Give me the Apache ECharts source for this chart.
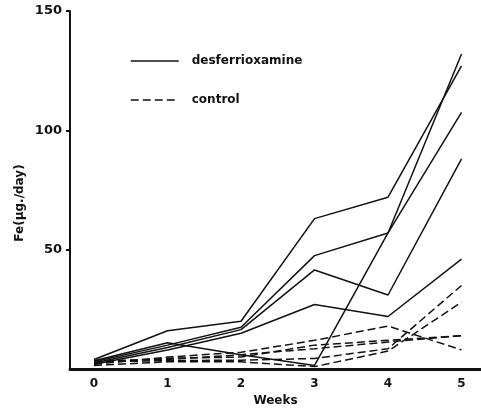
<!DOCTYPE html>
<html>
<head>
<meta charset="utf-8">
<script src="https://cdn.jsdelivr.net/npm/echarts@6/dist/echarts.min.js"></script>
<style>
html,body{margin:0;padding:0;background:#fff;}
#chart{width:481px;height:412px;}
</style>
</head>
<body>
<div id="chart"></div>
<script>
// ---- data ----
const weeks = [0, 1, 2, 3, 4, 5];
const xTickLabels = [0, 1, 2, 3, 4, 5];
const yTickLabels = [0, 50, 100, 150];

// desferrioxamine (solid)
const desf1 = [4, 16, 20, 63, 72, 127];
const desf2 = [3, 10, 17.5, 47.5, 57, 132];
const desf3 = [3.5, 11, 6, 1.5, 57, 107.5];
const desf4 = [2.5, 9, 16.5, 41.5, 31, 88];
const desf5 = [2, 8, 15, 27, 22, 46];

// control (dashed)
const ctrl1 = [2, 5, 7, 12, 18, 8];
const ctrl2 = [1.5, 3, 3, 1, 7.5, 28];
const ctrl3 = [3, 3.5, 3.7, 4.4, 8.5, 35];
const ctrl4 = [2.5, 4.5, 5, 10, 12, 14];
const ctrl5 = [3.5, 4, 6, 8.5, 11.3, 14];

const desfSeries = [desf1, desf2, desf3, desf4, desf5];
const ctrlSeries = [ctrl1, ctrl2, ctrl3, ctrl4, ctrl5];

const FONT = '"DejaVu Sans", "Liberation Sans", sans-serif';
const INK = '#111';

function mk(name, vals, dashed) {
  return {
    name: name,
    type: 'line',
    symbol: 'none',
    animation: false,
    data: weeks.map((w, i) => [w, vals[i]]),
    lineStyle: { color: INK, width: 1.5, type: dashed ? [8, 4] : 'solid' },
    itemStyle: { color: INK }
  };
}

const series = [];
desfSeries.forEach(v => series.push(mk('desferrioxamine', v, false)));
ctrlSeries.forEach(v => series.push(mk('control', v, true)));

const chart = echarts.init(document.getElementById('chart'), null, { renderer: 'canvas' });
chart.setOption({
  animation: false,
  backgroundColor: '#fff',
  grid: { left: 70, right: 0, top: 11, bottom: 38, containLabel: false },
  legend: {
    show: true,
    data: ['desferrioxamine', 'control'],
    orient: 'vertical',
    left: 130,
    top: 55,
    padding: 0,
    itemWidth: 48,
    itemHeight: 14,
    itemGap: 27,
    selectedMode: false,
    itemStyle: { opacity: 0, borderWidth: 0 },
    lineStyle: { width: 1.5 },
    textStyle: { color: INK, fontFamily: FONT, fontWeight: 'bold', fontSize: 12, padding: [0, 0, 0, 8] }
  },
  xAxis: {
    type: 'value',
    min: -0.327,
    max: 5.265,
    name: 'Weeks',
    nameLocation: 'middle',
    nameGap: 26,
    nameTextStyle: { color: INK, fontFamily: FONT, fontWeight: 'bold', fontSize: 12 },
    axisLine: { show: true, onZero: false, lineStyle: { color: INK, width: 3 } },
    axisTick: { show: false },
    splitLine: { show: false },
    axisLabel: {
      customValues: xTickLabels,
      color: INK, fontFamily: FONT, fontWeight: 'bold', fontSize: 12, margin: 9
    }
  },
  yAxis: {
    type: 'value',
    min: 0,
    max: 150,
    interval: 50,
    axisLine: { show: true, onZero: false, lineStyle: { color: INK, width: 2 } },
    axisTick: { show: true, customValues: yTickLabels.slice(1), length: 4, lineStyle: { color: INK, width: 2 } },
    splitLine: { show: false },
    axisLabel: {
      customValues: yTickLabels.slice(1),
      color: INK, fontFamily: FONT, fontWeight: 'bold', fontSize: 13, margin: 8
    }
  },
  graphic: [{
    type: 'text',
    x: 20, y: 203,
    rotation: Math.PI / 2,
    style: {
      text: 'Fe(\u03bcg./day)',
      fill: INK,
      font: 'bold 12px "DejaVu Sans", sans-serif',
      align: 'center',
      verticalAlign: 'middle'
    }
  }],
  series: series
});
</script>
</body>
</html>
